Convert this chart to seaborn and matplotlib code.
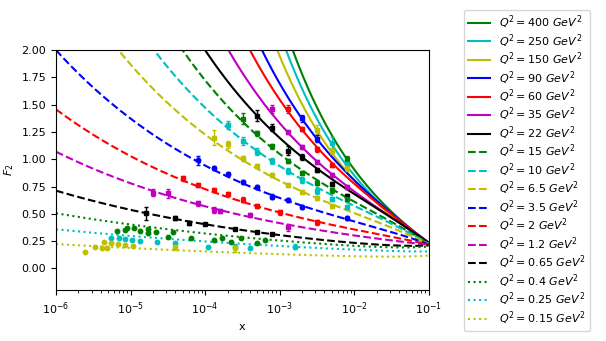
import numpy as np
import seaborn as sns
import matplotlib
matplotlib.use("Agg")
import matplotlib.pyplot as plt

# Q^2 bins (legend order) and their styles
q2 = ["400", "250", "150", "90", "60", "35", "22", "15", "10", "6.5",
      "3.5", "2", "1.2", "0.65", "0.4", "0.25", "0.15"]
colors = ["g", "c", "y", "b", "r", "m", "k", "g", "c", "y",
          "b", "r", "m", "k", "g", "c", "y"]
styles = ["-"] * 7 + ["--"] * 7 + [":"] * 3
markers = ["s"] * 10 + ["o", "s", "s", "s", "o", "o", "o"]

cx1 = [1.5e-3, 1.22e-3, 9.3e-4, 5.8e-4, 4.0e-4, 2.06e-4, 1e-4, 5e-5, 2.07e-5, 6.9e-6,
       1e-6, 1e-6, 1e-6, 1e-6, 1e-6, 1e-6, 1e-6]
cf1 = [2.0, 2.0, 2.0, 2.0, 2.0, 2.0, 2.0, 2.0, 2.0, 2.0,
       2.0, 1.457, 1.069, 0.712, 0.505, 0.358, 0.223]
cx2 = [8e-3, 5e-3, 3.2e-3, 2e-3, 2e-3, 2e-3, 2e-3, 1.3e-3, 1.3e-3, 1.3e-3,
       1e-3, 1e-3, 1.3e-3, 1e-3, 1e-3, 1e-3, 1e-3]
cf2 = [1.0, 1.14, 1.26, 1.37, 1.27, 1.11, 1.02, 0.99, 0.89, 0.764,
       0.645, 0.512, 0.40, 0.305, 0.255, 0.205, 0.13]
cend = [0.235] * 7 + [0.228, 0.225, 0.222, 0.22, 0.218, 0.215, 0.21, 0.2, 0.155, 0.118]

# measured points per bin
px = [
    [8e-3],
    [5e-3, 8e-3],
    [3.2e-3, 5e-3, 8e-3],
    [2e-3, 3.2e-3],
    [1.3e-3, 2e-3, 3.2e-3, 5e-3],
    [8e-4, 1.3e-3, 2e-3, 3.2e-3, 5e-3, 8e-3],
    [5e-4, 8e-4, 1.3e-3, 2e-3, 3.2e-3, 5e-3, 8e-3],
    [3.2e-4, 5e-4, 8e-4, 1.3e-3, 2e-3, 3.2e-3, 5e-3, 8e-3],
    [2e-4, 3.2e-4, 5e-4, 8e-4, 1.3e-3, 2e-3, 3.2e-3, 5e-3, 8e-3],
    [1.3e-4, 2e-4, 3.2e-4, 5e-4, 8e-4, 1.3e-3, 2e-3, 3.2e-3, 5e-3],
    [8e-5, 1.3e-4, 2e-4, 3.2e-4, 5e-4, 8e-4, 1.3e-3, 2e-3, 8e-3],
    [5e-5, 8e-5, 1.3e-4, 2e-4, 3.2e-4, 5e-4, 1e-3, 3.2e-3],
    [2e-5, 3.2e-5, 8e-5, 1.3e-4, 1.6e-4, 4e-4, 1.3e-3],
    [1.6e-5, 4e-5, 6e-5, 1e-4, 2.5e-4, 5e-4, 8e-4],
    [6.6e-6, 8.3e-6, 9.1e-6, 1.1e-5, 1.35e-5, 1.7e-5, 1.7e-5, 2.2e-5, 3.2e-5,
     3.7e-5, 6.5e-5, 1.3e-4, 1.7e-4, 2.2e-4, 3e-4, 5e-4, 6.3e-4],
    [5.4e-6, 6.9e-6, 8.3e-6, 1.05e-5, 1.35e-5, 2.3e-5, 4e-5, 1.1e-4, 2.55e-4, 4e-4, 1.6e-3],
    [2.45e-6, 3.3e-6, 4.1e-6, 4.4e-6, 4.9e-6, 5.5e-6, 6.7e-6, 8.5e-6, 1.09e-5, 4e-5, 2.55e-4],
]
pf = [
    [1.0],
    [1.15, 0.96],
    [1.27, 1.075, 0.92],
    [1.375, 1.19],
    [1.46, 1.275, 1.09, 0.95],
    [1.46, 1.25, 1.115, 0.977, 0.855, 0.748],
    [1.40, 1.29, 1.08, 1.02, 0.90, 0.773, 0.666],
    [1.37, 1.237, 1.117, 0.986, 0.876, 0.786, 0.715, 0.633],
    [1.313, 1.167, 1.07, 0.983, 0.892, 0.81, 0.71, 0.633, 0.56],
    [1.197, 1.136, 1.008, 0.94, 0.855, 0.764, 0.70, 0.642, 0.574],
    [0.99, 0.922, 0.862, 0.794, 0.748, 0.657, 0.626, 0.565, 0.459],
    [0.825, 0.764, 0.72, 0.68, 0.63, 0.574, 0.512, 0.422],
    [0.693, 0.688, 0.596, 0.535, 0.528, 0.489, 0.375],
    [0.505, 0.464, 0.413, 0.404, 0.361, 0.33, 0.312],
    [0.345, 0.352, 0.367, 0.373, 0.345, 0.358, 0.321, 0.33, 0.29,
     0.33, 0.281, 0.26, 0.281, 0.245, 0.276, 0.235, 0.26],
    [0.281, 0.275, 0.266, 0.26, 0.251, 0.239, 0.23, 0.193, 0.199, 0.19, 0.199],
    [0.147, 0.199, 0.184, 0.239, 0.184, 0.23, 0.221, 0.214, 0.205, 0.20, 0.184],
]
perr = [
    [0.03],
    [0.05, 0.04],
    [0.04, 0.03, 0.03],
    [0.03, 0.03],
    [0.04, 0.02, 0.02, 0.02],
    [0.04, 0.02, 0.02, 0.02, 0.02, 0.02],
    [0.05, 0.03, 0.04, 0.03, 0.02, 0.02, 0.02],
    [0.05, 0.02, 0.02, 0.02, 0.02, 0.02, 0.02, 0.02],
    [0.04, 0.04, 0.03, 0.03, 0.03, 0.03, 0.03, 0.02, 0.02],
    [0.07, 0.03, 0.02, 0.02, 0.02, 0.02, 0.02, 0.02, 0.02],
    [0.04, 0.02, 0.02, 0.02, 0.02, 0.02, 0.02, 0.02, 0.02],
    [0.02, 0.02, 0.02, 0.02, 0.02, 0.02, 0.02, 0.02],
    [0.03, 0.04, 0.02, 0.03, 0.02, 0.02, 0.03],
    [0.06, 0.02, 0.02, 0.01, 0.01, 0.01, 0.01],
    [0.01] * 17,
    [0.01, 0.01, 0.01, 0.01, 0.01, 0.01, 0.01, 0.01, 0.02, 0.01, 0.02],
    [0.01, 0.01, 0.01, 0.01, 0.01, 0.01, 0.01, 0.01, 0.01, 0.03, 0.03],
]


def fit_params(x1, f1, x2, f2, fe):
    # F2 = fe * (x/0.1)^-lam * ((1-x)/0.9)^n, through the two read values
    m = np.array([[np.log(0.1 / x1), np.log((1 - x1) / 0.9)],
                  [np.log(0.1 / x2), np.log((1 - x2) / 0.9)]])
    rhs = np.log([f1 / fe, f2 / fe])
    return np.linalg.solve(m, rhs)


fig = plt.figure(figsize=(6.06, 3.41), dpi=100)
ax = fig.add_axes([0.0924, 0.149, 0.615, 0.704])

xs = np.logspace(-6, -1, 400)
handles = []
for i in range(len(q2)):
    lam, n = fit_params(cx1[i], cf1[i], cx2[i], cf2[i], cend[i])
    ys = cend[i] * np.exp(lam * np.log(0.1 / xs) + n * np.log((1 - xs) / 0.9))
    sns.lineplot(x=xs, y=ys, color=colors[i], lw=1.5, ax=ax)
    line = ax.lines[-1]
    line.set_linestyle(styles[i])
    line.set_label(r"$Q^2=%s\ GeV^2$" % q2[i])
    handles.append(line)
    ax.errorbar(px[i], pf[i], yerr=perr[i], fmt=markers[i], color=colors[i],
                ms=3.2, capsize=1.5, elinewidth=1, zorder=3)

ax.set_xscale("log")
ax.set_xlim(1e-6, 1e-1)
ax.set_ylim(-0.2, 2.0)
ax.set_xlabel("x", fontsize=8)
ax.set_ylabel("$F_2$", fontsize=8)
ax.tick_params(labelsize=8)

ax.legend(handles=handles, loc="center left", bbox_to_anchor=(1.095, 0.5),
          borderaxespad=0, fontsize=8, labelspacing=0.08, borderpad=0.35)

fig.savefig("out.png", dpi=100)
